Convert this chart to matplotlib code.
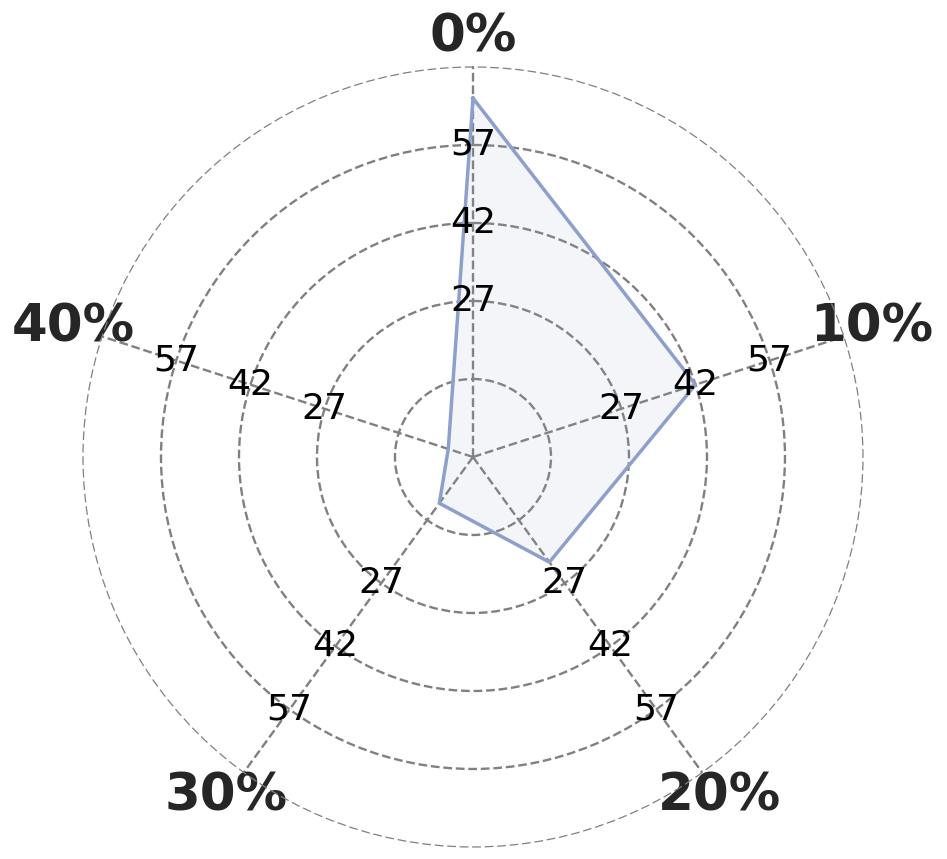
import numpy as np
import matplotlib.pyplot as plt

categories = ['0%', '10%', '20%', '30%', '40%']
values = [66, 42, 22, 8, 2]
grid_values = [12, 27, 42, 57]
label_values = [27, 42, 57]

line_color = '#8da0cb'
grid_color = 'grey'

fig = plt.figure(figsize=(9.47, 8.59), dpi=100)
ax = fig.add_axes([0.0876, 0.014, 0.8237, 0.908], projection='polar')
ax.set_theta_offset(np.pi / 2)
ax.set_theta_direction(-1)

angles = np.linspace(0, 2 * np.pi, len(categories), endpoint=False)
closed_angles = np.concatenate([angles, angles[:1]])
closed_values = values + values[:1]

ax.plot(closed_angles, closed_values, color=line_color, linewidth=2.5, zorder=3)
ax.fill(closed_angles, closed_values, color=line_color, alpha=0.1, zorder=2)

ax.set_ylim(-3, 72)
ax.set_yticks(grid_values)
ax.set_yticklabels([])
ax.set_xticks(angles)
ax.set_xticklabels(categories, fontsize=37, fontweight='bold', color='#262626')
ax.tick_params(axis='x', pad=11)

ax.grid(True, linestyle='--', color=grid_color, linewidth=1.7)
ax.spines['polar'].set_linestyle((0, (6, 4)))
ax.spines['polar'].set_linewidth(0.9)
ax.spines['polar'].set_color(grid_color)

# radial labels on every spoke
for a in angles:
    for v in label_values:
        ax.text(a, v, str(v), fontsize=26, ha='center', va='center', color='black', zorder=4)

fig.savefig('out.png', dpi=100)
